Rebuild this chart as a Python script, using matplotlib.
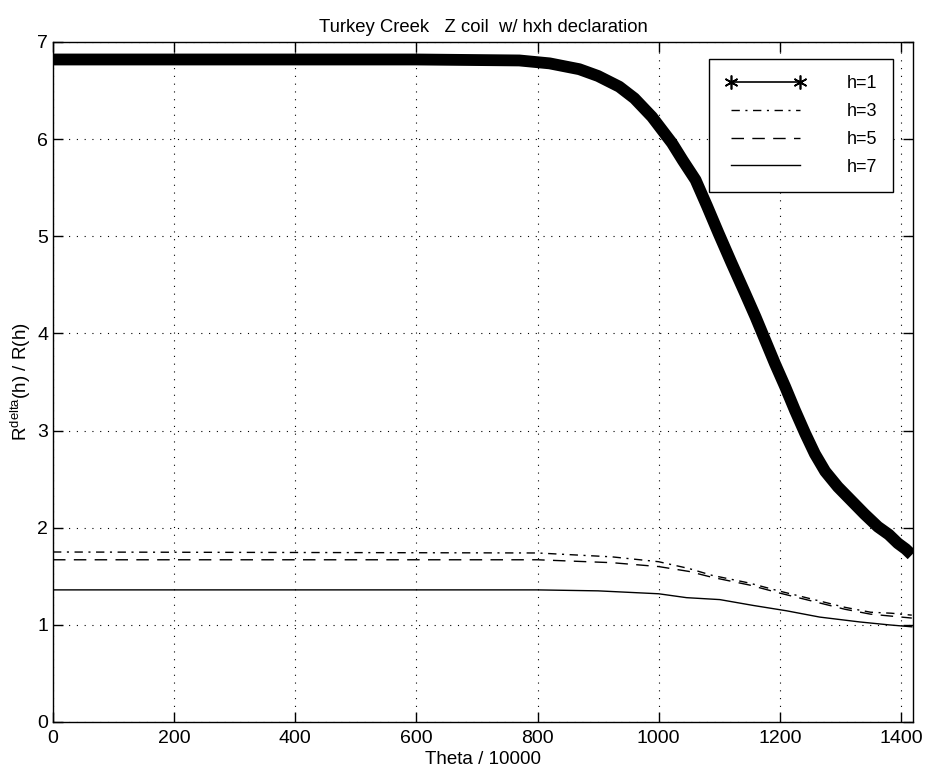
import numpy as np
import matplotlib
matplotlib.use('Agg')
import matplotlib.pyplot as plt
from matplotlib.lines import Line2D

plt.rcParams['font.family'] = ['Liberation Sans', 'DejaVu Sans']
plt.rcParams['font.size'] = 13.5

# values
x_h1 = [0, 200, 400, 600, 770, 820, 869, 900, 935, 960, 989, 1022, 1040, 1061, 1080, 1099, 1120,
        1143, 1160, 1176, 1192, 1209, 1225, 1242, 1258, 1275, 1296, 1318, 1340, 1362, 1380, 1395, 1408, 1418]
y_h1 = [6.82, 6.82, 6.82, 6.82, 6.81, 6.78, 6.72, 6.65, 6.54, 6.42, 6.23, 5.96, 5.78, 5.58, 5.31, 5.03, 4.73,
        4.41, 4.17, 3.93, 3.69, 3.45, 3.21, 2.97, 2.76, 2.58, 2.42, 2.28, 2.14, 2.01, 1.93, 1.84, 1.78, 1.72]

x_h3 = [0, 800, 923, 1000, 1050, 1088, 1150, 1198, 1250, 1308, 1350, 1384, 1418]
y_h3 = [1.75, 1.74, 1.70, 1.65, 1.58, 1.51, 1.43, 1.35, 1.27, 1.18, 1.13, 1.12, 1.10]

x_h5 = [0, 800, 923, 1000, 1050, 1088, 1150, 1198, 1250, 1308, 1350, 1384, 1418]
y_h5 = [1.67, 1.67, 1.64, 1.60, 1.55, 1.49, 1.41, 1.33, 1.25, 1.16, 1.11, 1.09, 1.07]

x_h7 = [0, 800, 900, 1000, 1046, 1101, 1156, 1211, 1266, 1332, 1380, 1418]
y_h7 = [1.36, 1.36, 1.35, 1.32, 1.28, 1.26, 1.20, 1.145, 1.08, 1.03, 1.00, 0.98]

labels = ['h=1', 'h=3', 'h=5', 'h=7']
xticks = [0, 200, 400, 600, 800, 1000, 1200, 1400]
yticks = [0, 1, 2, 3, 4, 5, 6, 7]

fig = plt.figure(figsize=(9.27, 7.71), dpi=100)
ax = fig.add_axes([53 / 927, 49 / 771, 860 / 927, 680 / 771])

ax.plot(x_h1, y_h1, color='black', lw=8.5, solid_capstyle='butt', solid_joinstyle='round')
ax.plot(x_h3, y_h3, color='black', lw=1, linestyle=(0, (6, 4, 1.5, 4)))
ax.plot(x_h5, y_h5, color='black', lw=1, linestyle=(0, (9, 6)))
ax.plot(x_h7, y_h7, color='black', lw=1)

ax.set_xlim(0, 1420)
ax.set_ylim(0, 7)
ax.set_xticks(xticks)
ax.set_yticks(yticks)
ax.grid(True, color='black', linestyle=(0, (1, 6)), lw=0.8)
ax.tick_params(direction='in', length=7, top=True, right=True, width=1, labelsize=14)
ax.tick_params(axis='x', pad=6)
for s in ax.spines.values():
    s.set_linewidth(1)

ax.set_title('Turkey Creek   Z coil  w/ hxh declaration', fontsize=13.3, pad=7)
ax.set_xlabel('Theta / 10000', labelpad=3)
ax.set_ylabel(r'R$^{\mathregular{delta}}$(h) / R(h)', labelpad=3)

star = (6, 2, 0)
handles = [
    Line2D([], [], color='black', lw=1.2, marker=star, ms=10, mew=1.2),
    Line2D([], [], color='black', lw=1, linestyle=(0, (6, 4, 1.5, 4))),
    Line2D([], [], color='black', lw=1, linestyle=(0, (9, 6))),
    Line2D([], [], color='black', lw=1),
]
leg = ax.legend(handles, labels, loc='upper right', bbox_to_anchor=(0.977, 0.975),
                borderaxespad=0, numpoints=2, handlelength=4.4, handletextpad=2.3,
                labelspacing=0.6, borderpad=0.9, fancybox=False, framealpha=1,
                edgecolor='black', fontsize=13)
leg.get_frame().set_linewidth(1)

fig.savefig('out.png', dpi=100)
